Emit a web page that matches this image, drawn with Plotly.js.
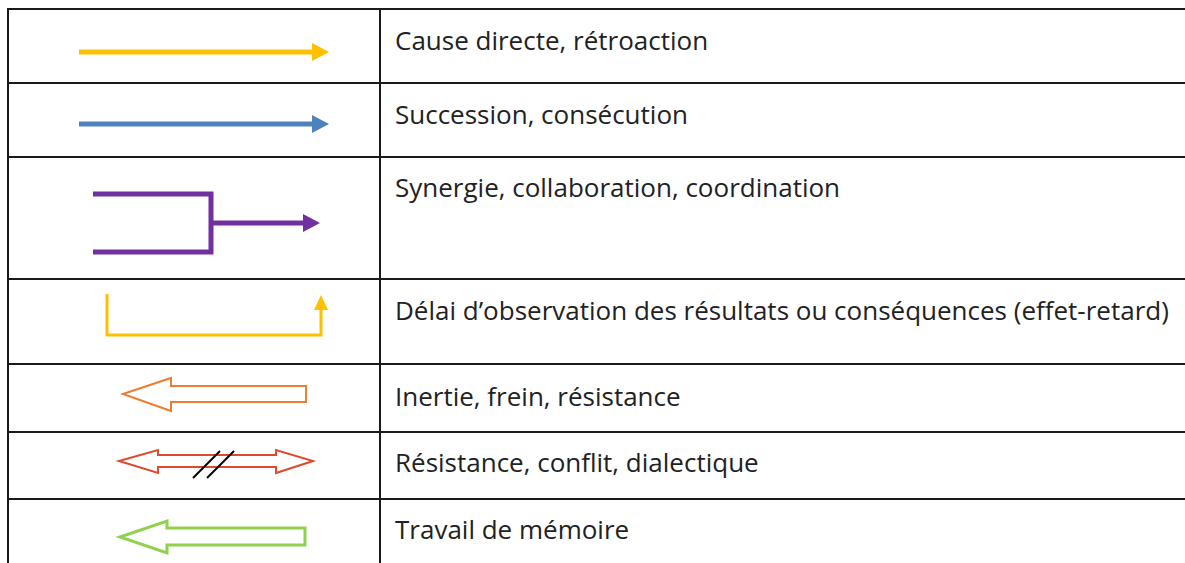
<!DOCTYPE html>
<html>
<head>
<meta charset="utf-8">
<script src="https://cdn.plot.ly/plotly-3.0.1.min.js"></script>
<style>html,body{margin:0;padding:0;background:#fff;}#chart{width:1185px;height:563px;}
#chart text{font-variant-ligatures:none;}</style>
</head>
<body>
<div id="chart"></div>
<script>
// Legend table content
var labels = [
  "Cause directe, rétroaction",
  "Succession, consécution",
  "Synergie, collaboration, coordination",
  "Délai d\u2019observation des résultats ou conséquences (effet-retard)",
  "Inertie, frein, résistance",
  "Résistance, conflit, dialectique",
  "Travail de mémoire"
];
var symbolColors = ["#FFC000", "#4F81BD", "#7030A0", "#FFC000", "#ED7D31", "#DD4B2C", "#92D050"];

// layout geometry (pixels)
var W = 1185, H = 563;
var rowLines = [9, 83, 157, 279, 364, 432, 499];
var xLeft = 8, xDiv = 380;
var labelY = [40, 114, 187, 310, 396, 462, 529];

var shapes = [];
function line(x0, y0, x1, y1, color, w) {
  shapes.push({type: 'line', xref: 'x', yref: 'y', x0: x0, y0: y0, x1: x1, y1: y1,
    line: {color: color, width: w}});
}
function path(d, color, w, fill) {
  shapes.push({type: 'path', xref: 'x', yref: 'y', path: d,
    line: {color: color, width: w}, fillcolor: fill || 'rgba(0,0,0,0)'});
}
function P(pts, close) {
  var s = pts.map(function (p, i) { return (i ? 'L' : 'M') + p[0] + ',' + p[1]; }).join(' ');
  return s + (close ? ' Z' : '');
}

// table grid
rowLines.forEach(function (y) { line(xLeft - 1, y, W + 5, y, '#1a1a1a', 2); });
line(xLeft, rowLines[0] - 1, xLeft, H + 5, '#1a1a1a', 2);
line(xDiv, rowLines[0] - 1, xDiv, H + 5, '#1a1a1a', 2);

// 1. yellow straight arrow
line(79, 52, 313, 52, symbolColors[0], 5);
path(P([[312, 43], [329, 52], [312, 61]], true), symbolColors[0], 0, symbolColors[0]);
// 2. blue straight arrow
line(79, 124, 313, 124, symbolColors[1], 5);
path(P([[312, 115], [329, 124], [312, 133]], true), symbolColors[1], 0, symbolColors[1]);
// 3. purple synergy
path(P([[93, 194], [211, 194], [211, 252], [93, 252]]), symbolColors[2], 5);
line(211, 223, 304, 223, symbolColors[2], 5);
path(P([[303, 214], [320, 223], [303, 232]], true), symbolColors[2], 0, symbolColors[2]);
// 4. yellow delay elbow
path(P([[107, 294], [107, 335], [321, 335], [321, 308]]), symbolColors[3], 3);
path(P([[314, 310], [321, 295], [328, 310]], true), symbolColors[3], 0, symbolColors[3]);
// 5. orange hollow left arrow
path(P([[123, 394], [171, 378], [171, 386], [306, 386], [306, 402], [171, 402], [171, 411]], true), symbolColors[4], 2);
// 6. red hollow double arrow
path(P([[119, 461], [158, 450], [158, 455], [276, 455], [276, 450], [313, 461], [276, 473], [276, 467], [158, 467], [158, 473]], true), symbolColors[5], 2);
line(193, 478, 220, 451, '#000000', 2);
line(207, 478, 234, 451, '#000000', 2);
// 7. green hollow left arrow
path(P([[120, 537], [167, 521], [167, 528], [305, 528], [305, 545], [167, 545], [167, 553]], true), symbolColors[6], 3);

var annotations = labels.map(function (t, i) {
  return {xref: 'x', yref: 'y', x: 393, y: labelY[i], text: t, showarrow: false,
    xanchor: 'left', yanchor: 'middle',
    font: {family: '"Open Sans", Lato, sans-serif', size: 26, color: '#222222'}};
});

var layout = {
  width: W, height: H,
  margin: {l: 0, r: 0, t: 0, b: 0},
  paper_bgcolor: '#ffffff', plot_bgcolor: '#ffffff',
  xaxis: {range: [0, W], visible: false, fixedrange: true},
  yaxis: {range: [H, 0], visible: false, fixedrange: true},
  shapes: shapes,
  annotations: annotations,
  showlegend: false
};
Plotly.newPlot('chart', [], layout, {staticPlot: true, displayModeBar: false});
</script>
</body>
</html>
